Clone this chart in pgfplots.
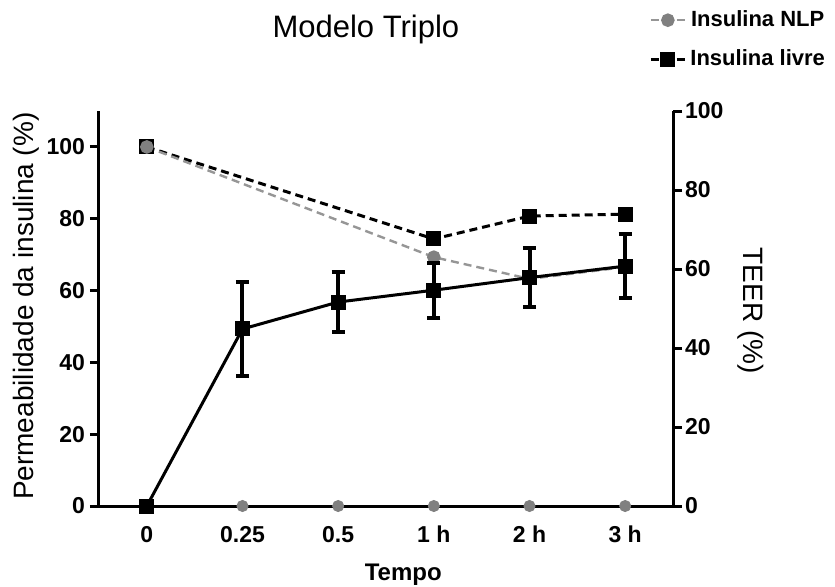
\documentclass[border=0pt]{standalone}
\usepackage{pgfplots}
\usepackage{pgfplotstable}
\pgfplotsset{compat=1.18}
\usepackage{fontspec}
\setmainfont{Liberation Sans}
\definecolor{mgray}{RGB}{128,128,128}
\definecolor{lgray}{RGB}{150,150,150}
\pgfplotstableread{
x y err
0 0 0
1 49.3 13.0
2 56.8 8.3
3 60.1 7.7
4 63.6 8.2
5 66.8 9.0
}\livreperm
\pgfplotstableread{
x y
0 0
1 0
2 0
3 0
4 0
5 0
}\nlpperm
\pgfplotstableread{
x y
0 90.9
3 67.6
4 73.4
5 73.9
}\livreteer
\pgfplotstableread{
x y
0 90.9
3 63.0
4 57.5
5 60.5
}\nlpteer
\begin{document}
\begin{tikzpicture}
\useasboundingbox (-49.5pt,-40pt) rectangle (368pt,253pt);
% right axis (TEER)
\begin{axis}[
  at={(0,0)}, anchor=south west,
  scale only axis, width=287pt, height=197.5pt,
  xmin=-0.5, xmax=5.5, ymin=0, ymax=100,
  axis x line=none, axis y line*=right,
  ytick={0,20,...,100},
  tick align=outside, major tick length=4.5pt,
  axis line style={line width=1.5pt},
  ytick style={line width=1.5pt, black},
  yticklabel style={font=\bfseries\fontsize{11.5}{13}\selectfont, xshift=-2pt},
  /pgf/number format/assume math mode=true,
  ylabel={TEER (\%)},
  ylabel style={at={(axis description cs:1.136,0.494)}, anchor=center, rotate=180, font=\fontsize{14}{16}\selectfont},
  clip=false,
  reverse legend,
  legend style={at={(axis description cs:0.958,1.265)}, anchor=north west, draw=none, fill=none,
    font=\bfseries\fontsize{11}{13}\selectfont, row sep=6pt, inner sep=0pt,
    /tikz/every even column/.append style={column sep=4pt}},
]
\addplot[black, line width=1.5pt, dash pattern=on 4pt off 2.5pt, mark=square*, mark size=3pt, mark options={solid}]
  table[x=x,y=y]{\livreteer};
\addlegendentry{Insulina livre}
\addplot[lgray, line width=1.2pt, dash pattern=on 4pt off 2.5pt, mark=*, mark size=2.8pt, mark options={solid, fill=mgray, draw=mgray}]
  table[x=x,y=y]{\nlpteer};
\addlegendentry{Insulina NLP}
\end{axis}
% left axis (permeability)
\begin{axis}[
  at={(0,0)}, anchor=south west,
  scale only axis, width=287pt, height=197.5pt,
  xmin=-0.5, xmax=5.5, ymin=0, ymax=110,
  axis x line*=bottom, axis y line*=left,
  xtick={0,...,5}, xticklabels={0,0.25,0.5,1 h,2 h,3 h},
  xtick style={draw=none},
  ytick={0,20,...,100},
  tick align=outside, major tick length=4.5pt,
  axis line style={line width=1.5pt},
  ytick style={line width=1.5pt, black},
  ticklabel style={font=\bfseries\fontsize{11.5}{13}\selectfont},
  yticklabel style={xshift=1pt},
  xticklabel style={yshift=-2pt},
  /pgf/number format/assume math mode=true,
  ylabel={Permeabilidade da insulina (\%)},
  ylabel style={at={(axis description cs:-0.127,0.506)}, anchor=center, font=\fontsize{14}{16}\selectfont},
  xlabel={Tempo},
  xlabel style={at={(axis description cs:0.530,-0.175)}, anchor=center, font=\bfseries\fontsize{12}{14}\selectfont},
  title={Modelo Triplo},
  title style={at={(axis description cs:0.465,1.175)}, anchor=center, font=\fontsize{15.5}{18}\selectfont},
  clip=false,
]
\addplot[only marks, mark=*, mark size=2.8pt, mgray] table[x=x,y=y]{\nlpperm};
\addplot[black, line width=1.5pt, mark=square*, mark size=3pt,
  error bars/.cd, y dir=both, y explicit,
  error bar style={line width=2pt},
  error mark options={rotate=90, mark size=3.3pt, line width=2pt}]
  table[x=x,y=y,y error=err]{\livreperm};
\end{axis}
\end{tikzpicture}
\end{document}
